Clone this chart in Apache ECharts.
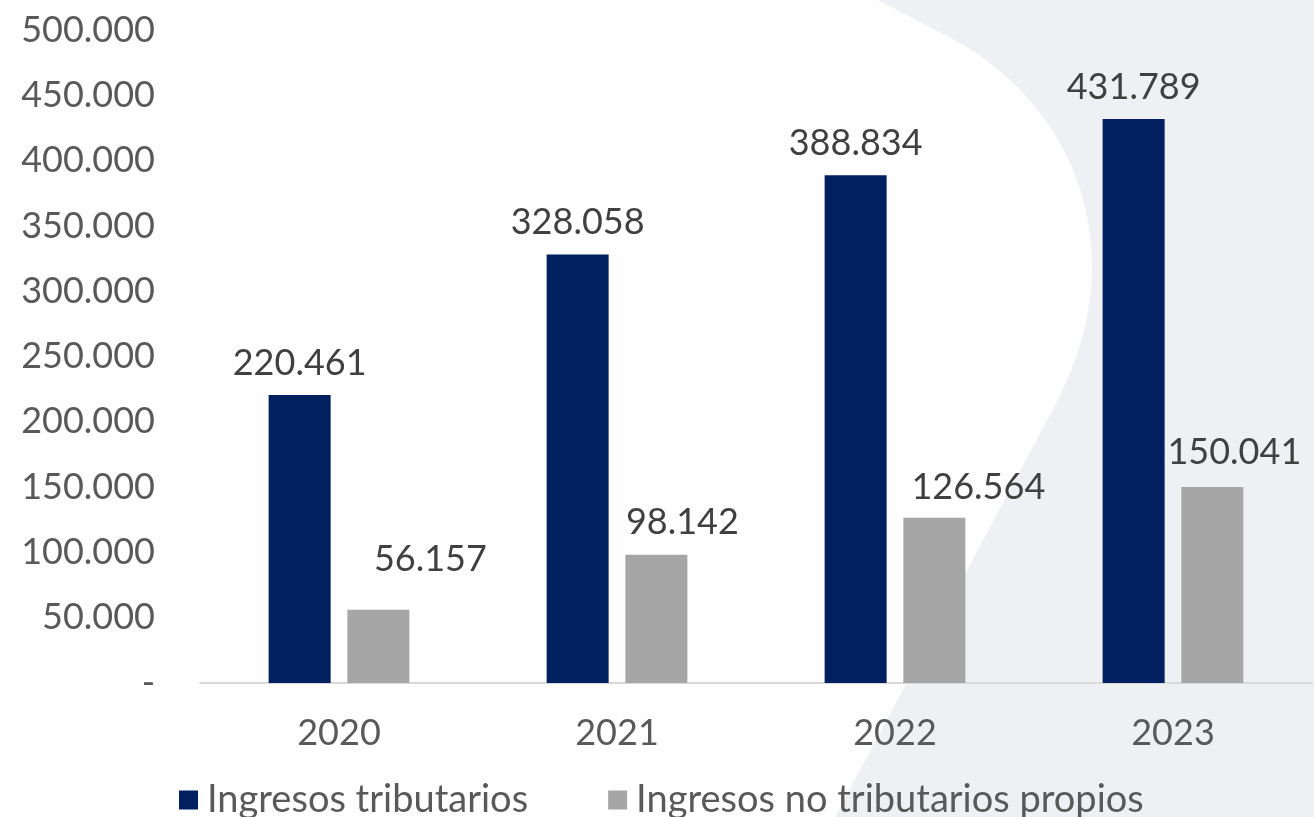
<!DOCTYPE html>
<html>
<head>
<meta charset="utf-8">
<script src="https://cdn.jsdelivr.net/npm/echarts@6/dist/echarts.min.js"></script>
<style>
  html, body { margin: 0; padding: 0; background: #fefefe; }
  #chart { width: 1314px; height: 817px; }
</style>
</head>
<body>
<div id="chart"></div>
<script>
var years = ['2020', '2021', '2022', '2023'];
var tributarios = [220461, 328058, 388834, 431789];
var noTributarios = [56157, 98142, 126564, 150041];
var seriesNames = ['Ingresos tributarios', 'Ingresos no tributarios propios'];

// the grey labels sit off-centre in the original, nudge them
var greyOffsets = [[52, -18], [26, 0], [44, 2], [22, -3]];

var fontFamily = 'Lato, "Open Sans", sans-serif';

function fmt(v) {
  if (v === 0) return '-';
  return String(v).replace(/\B(?=(\d{3})+(?!\d))/g, '.');
}

// decorative grey backdrop on the right
function cubic(p0, p1, p2, p3, n, out) {
  for (var i = 1; i <= n; i++) {
    var t = i / n, u = 1 - t;
    out.push([
      u * u * u * p0[0] + 3 * u * u * t * p1[0] + 3 * u * t * t * p2[0] + t * t * t * p3[0],
      u * u * u * p0[1] + 3 * u * u * t * p1[1] + 3 * u * t * t * p2[1] + t * t * t * p3[1]
    ]);
  }
}
var shapePts = [[878, 0], [960, 43]];
cubic([960, 43], [1040, 90], [1092, 170], [1092, 267], 30, shapePts);
cubic([1092, 267], [1092, 320], [1075, 365], [1058, 400], 20, shapePts);
shapePts.push([835, 817], [1314, 817], [1314, 0]);

var dom = document.getElementById('chart');
var myChart = echarts.init(dom, null, { renderer: 'canvas' });

var option = {
  backgroundColor: '#fefefe',
  animation: false,
  textStyle: { fontFamily: fontFamily },
  graphic: [
    {
      type: 'polygon',
      z: -10,
      silent: true,
      shape: { points: shapePts },
      style: { fill: '#eef0f4' }
    }
  ],
  grid: { left: 200, right: 2, top: 30, bottom: 134 },
  legend: {
    top: 776,
    left: 174,
    itemWidth: 19,
    itemHeight: 19,
    itemGap: 80,
    icon: 'rect',
    textStyle: { fontSize: 38, color: '#595959', fontFamily: fontFamily, padding: [0, 0, 0, 4] },
    data: seriesNames
  },
  xAxis: {
    type: 'category',
    data: years,
    axisLine: { lineStyle: { color: '#d9d9d9', width: 2 } },
    axisTick: { show: false },
    axisLabel: { fontSize: 36, color: '#595959', margin: 32 }
  },
  yAxis: {
    type: 'value',
    min: 0,
    max: 500000,
    interval: 50000,
    splitLine: { show: false },
    axisLine: { show: false },
    axisTick: { show: false },
    axisLabel: {
      fontSize: 36,
      color: '#595959',
      margin: 45,
      formatter: fmt
    }
  },
  series: [
    {
      name: seriesNames[0],
      type: 'bar',
      barWidth: 62,
      barGap: '27%',
      itemStyle: { color: '#002060' },
      label: {
        show: true,
        position: 'top',
        distance: 14,
        fontSize: 36,
        color: '#404040',
        formatter: function (p) { return fmt(p.value); }
      },
      data: tributarios
    },
    {
      name: seriesNames[1],
      type: 'bar',
      barWidth: 62,
      itemStyle: { color: '#a6a6a6' },
      label: {
        show: true,
        position: 'top',
        distance: 14,
        fontSize: 36,
        color: '#404040',
        formatter: function (p) { return fmt(p.value); }
      },
      data: noTributarios.map(function (v, i) {
        return { value: v, label: { offset: greyOffsets[i] } };
      })
    }
  ]
};

myChart.setOption(option);
window.addEventListener('resize', myChart.resize);
</script>
</body>
</html>
